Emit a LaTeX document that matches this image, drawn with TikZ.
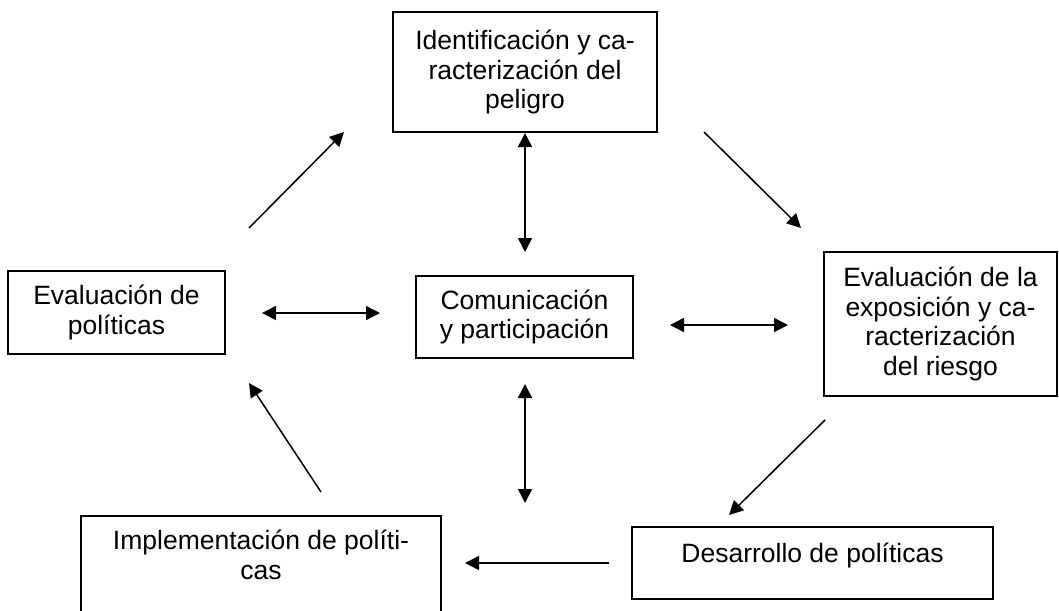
\documentclass[tikz,border=0pt]{standalone}
\usepackage{fontspec}
\setmainfont{Liberation Sans}
\usetikzlibrary{arrows.meta}
\begin{document}
\begin{tikzpicture}[x=1pt,y=-1pt,
    caja/.style={draw,line width=2pt,inner sep=0pt,align=center,font=\fontsize{26.5}{29.5}\selectfont},
    flecha/.style={line width=1.5pt,-{Triangle[length=14pt,width=14pt]}},
    dflecha/.style={line width=1.5pt,{Triangle[length=14pt,width=14pt]}-{Triangle[length=14pt,width=14pt]}}]
    \useasboundingbox (0,0) rectangle (1059,610);
    \clip (0,0) rectangle (1059,610);
    %\draw[step=50, gray,very thin] (0,0) grid (1059,610);

    \node[caja,minimum width=264pt,minimum height=120pt] (ident) at (525,72) {Identificación y ca-\\racterización del\\peligro};
    \node[caja,minimum width=217pt,minimum height=83pt] (evalpol) at (116.5,312.5) {Evaluación de\\políticas};
    \node[caja,minimum width=217pt,minimum height=82pt] (comun) at (524.5,317) {Comunicación\\y participación};
    \node[caja,minimum width=233pt,minimum height=144pt] (expo) at (940.5,324) {Evaluación de la\\exposición y ca-\\racterización\\del riesgo};
    \node[caja,minimum width=361pt,minimum height=72pt,text height=20pt,text depth=22pt] (desarr) at (812.5,563) {Desarrollo de políticas};
    \node[caja,minimum width=360pt,minimum height=107pt] (implem) at (261,569.5) {Implementación de políti-\\cas\\\mbox{}};

    \begin{scope}
    \coordinate (ia) at (249,228);
    \coordinate (ib) at (344,132);
    \coordinate (da) at (704,132);
    \coordinate (db) at (801,228);
    \coordinate (ea) at (825,420);
    \coordinate (eb) at (729,515);
    \coordinate (ha) at (609,563);
    \coordinate (hb) at (465,563);
    \coordinate (pa) at (321,492);
    \coordinate (pb) at (249,383);
    \draw[flecha] (ia)--(ib);
    \draw[flecha] (da)--(db);
    \draw[flecha] (ea)--(eb);
    \draw[flecha] (ha)--(hb);
    \draw[flecha] (pa)--(pb);
    \end{scope}
    \begin{scope}
    \coordinate (va) at (525,133);
    \coordinate (vb) at (525,252);
    \coordinate (wa) at (525,384);
    \coordinate (wb) at (525,503);
    \coordinate (la) at (262,313);
    \coordinate (lb) at (380,313);
    \coordinate (ra) at (670,325);
    \coordinate (rb) at (788,325);
    \draw[dflecha] (va)--(vb);
    \draw[dflecha] (wa)--(wb);
    \draw[dflecha] (la)--(lb);
    \draw[dflecha] (ra)--(rb);
    \end{scope}
\end{tikzpicture}
\end{document}
